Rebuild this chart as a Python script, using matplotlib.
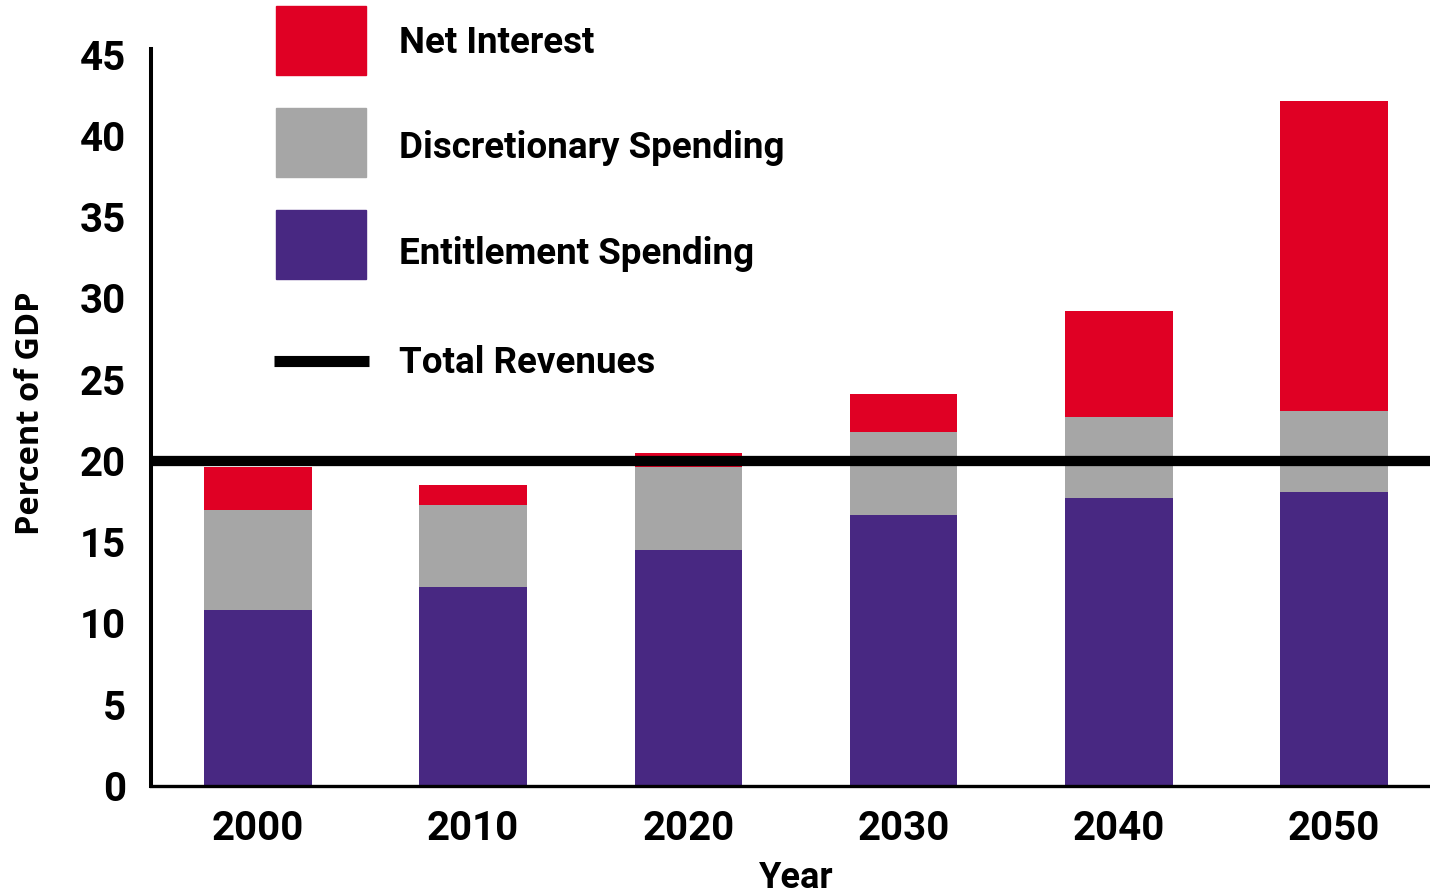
import matplotlib.pyplot as plt
from matplotlib.patches import Rectangle
from matplotlib.lines import Line2D

years = ["2000", "2010", "2020", "2030", "2040", "2050"]
entitlement = [10.8, 12.25, 14.5, 16.7, 17.7, 18.1]
discretionary = [6.2, 5.05, 5.1, 5.1, 5.0, 5.0]
net_interest = [2.6, 1.2, 0.9, 2.3, 6.5, 19.05]
total_revenues = 20.0

RED = "#E00024"
GRAY = "#A6A6A6"
PURPLE = "#482882"

W, H = 1430, 896
fig = plt.figure(figsize=(W / 100, H / 100), dpi=100)
ax = fig.add_axes([151 / W, 1 - 786 / H, (W - 151) / W, (786 - 49) / H])

font = dict(family=["Roboto", "DejaVu Sans"], weight="bold")

x = range(len(years))
base2 = [e + d for e, d in zip(entitlement, discretionary)]
ax.bar(x, entitlement, width=0.5, color=PURPLE, zorder=2)
ax.bar(x, discretionary, width=0.5, bottom=entitlement, color=GRAY, zorder=2)
ax.bar(x, net_interest, width=0.5, bottom=base2, color=RED, zorder=2)
ax.axhline(total_revenues, color="black", lw=7.4, zorder=3, solid_capstyle="butt")

ax.set_xlim(-0.497, 5.446)
ax.set_ylim(0, 45.35)
ax.set_yticks(range(0, 46, 5))
ax.set_xticks(list(x))
ax.set_xticklabels(years)
for sp in ["top", "right"]:
    ax.spines[sp].set_visible(False)
ax.spines["left"].set_linewidth(2.9)
ax.spines["bottom"].set_linewidth(2.4)
ax.tick_params(axis="both", length=0)
ax.tick_params(axis="y", pad=18)
ax.tick_params(axis="x", pad=17)
for lab in ax.get_xticklabels() + ax.get_yticklabels():
    lab.set_fontsize(29)
    lab.set_fontfamily(font["family"])
    lab.set_fontweight("bold")
for lab in ax.get_yticklabels():
    lab.set_verticalalignment("center_baseline")

# axis titles
fig.text(31 / W, 1 - 413 / H, "Percent of GDP", rotation=90, ha="center", va="center",
         fontsize=23.5, fontweight="bold", family=["Open Sans", "DejaVu Sans"])
fig.text(796 / W, 1 - 888 / H, "Year", ha="center", va="baseline",
         fontsize=26, **font)

# legend drawn by hand
def px(xp, yp):
    return xp / W, 1 - yp / H

entries = [(RED, 6, 75, "Net Interest", 53),
           (GRAY, 108, 177, "Discretionary Spending", 158),
           (PURPLE, 210, 279, "Entitlement Spending", 264)]
for color, top, bot, label, base in entries:
    x0, y0 = px(276, bot)
    fig.patches.append(Rectangle((x0, y0), 90 / W, (bot - top) / H, color=color,
                                 transform=fig.transFigure, figure=fig))
    fig.text(*px(399, base), label, va="baseline", ha="left", fontsize=26.5, **font)

lx0, ly = px(274, 361)
lx1, _ = px(369, 361)
fig.lines.append(Line2D([lx0, lx1], [ly, ly], color="black", lw=8,
                        transform=fig.transFigure, figure=fig, solid_capstyle="butt"))
fig.text(*px(399, 373), "Total Revenues", va="baseline", ha="left", fontsize=26.5, **font)

fig.savefig("out.png", dpi=100)
